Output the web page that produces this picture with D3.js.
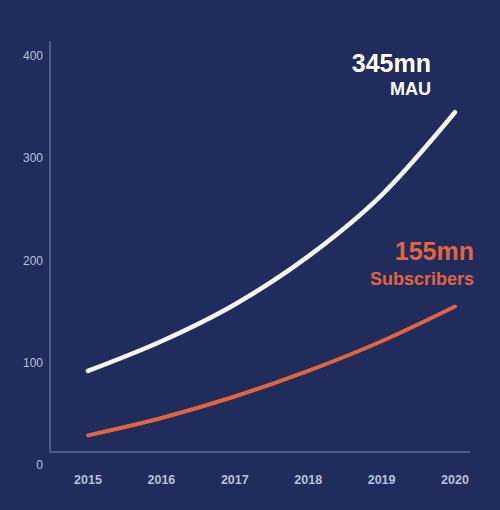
<!doctype html>
<html lang="en">
<head>
<meta charset="utf-8">
<title>MAU and Subscribers</title>
<script src="https://d3js.org/d3.v7.min.js"></script>
<style>
  html, body { margin: 0; padding: 0; background: #1f2c5c; }
  svg { display: block; }
  text { font-family: "Liberation Sans", Arial, sans-serif; }
</style>
</head>
<body>
<svg id="chart" width="500" height="510"></svg>
<script>
// data (millions)
var years = [2015, 2016, 2017, 2018, 2019, 2020];
var mau = [92, 121, 157, 204, 264, 345];
var subscribers = [29, 46, 67, 92, 121, 155];
var yTicks = [0, 100, 200, 300, 400];

var svg = d3.select("#chart"),
    width = +svg.attr("width"),
    height = +svg.attr("height");

svg.append("rect").attr("width", width).attr("height", height).attr("fill", "#1f2c5c");

var x = d3.scalePoint().domain(years).range([88, 455]);
var y = d3.scaleLinear().domain([0, 400]).range([465, 56]);

// axis lines
svg.append("line")
   .attr("x1", 50).attr("x2", 50)
   .attr("y1", 41).attr("y2", 452)
   .attr("stroke", "#4c5c8e").attr("stroke-width", 2);
svg.append("line")
   .attr("x1", 50).attr("x2", 470)
   .attr("y1", 452).attr("y2", 452)
   .attr("stroke", "#4c5c8e").attr("stroke-width", 2);

// tick labels
svg.append("g").selectAll("text")
   .data(yTicks)
   .enter().append("text")
   .attr("x", 43)
   .attr("y", function(d) { return y(d) + 4; })
   .attr("text-anchor", "end")
   .attr("font-size", 12)
   .attr("fill", "#b9c1dc")
   .text(function(d) { return d; });

svg.append("g").selectAll("text")
   .data(years)
   .enter().append("text")
   .attr("x", function(d) { return x(d); })
   .attr("y", 484)
   .attr("text-anchor", "middle")
   .attr("font-size", 12.5)
   .attr("font-weight", "bold")
   .attr("fill", "#b9c1dc")
   .text(function(d) { return d; });

var line = d3.line()
   .x(function(d, i) { return x(years[i]); })
   .y(function(d) { return y(d); })
   .curve(d3.curveMonotoneX);

svg.append("path")
   .datum(mau)
   .attr("d", line)
   .attr("fill", "none")
   .attr("stroke", "#f4f6fb")
   .attr("stroke-width", 4.5)
   .attr("stroke-linecap", "round");

svg.append("path")
   .datum(subscribers)
   .attr("d", line)
   .attr("fill", "none")
   .attr("stroke", "#e2653f")
   .attr("stroke-width", 4)
   .attr("stroke-linecap", "round");

// end labels
svg.append("text")
   .attr("x", 431).attr("y", 72)
   .attr("text-anchor", "end")
   .attr("font-size", 25).attr("font-weight", "bold")
   .attr("fill", "#ffffff")
   .text(mau[mau.length - 1] + "mn");
svg.append("text")
   .attr("x", 431).attr("y", 95)
   .attr("text-anchor", "end")
   .attr("font-size", 18).attr("font-weight", "bold")
   .attr("fill", "#ffffff")
   .text("MAU");

svg.append("text")
   .attr("x", 474).attr("y", 260)
   .attr("text-anchor", "end")
   .attr("font-size", 25).attr("font-weight", "bold")
   .attr("fill", "#e2653f")
   .text(subscribers[subscribers.length - 1] + "mn");
svg.append("text")
   .attr("x", 474).attr("y", 285)
   .attr("text-anchor", "end")
   .attr("font-size", 18).attr("font-weight", "bold")
   .attr("fill", "#e2653f")
   .text("Subscribers");
</script>
</body>
</html>
